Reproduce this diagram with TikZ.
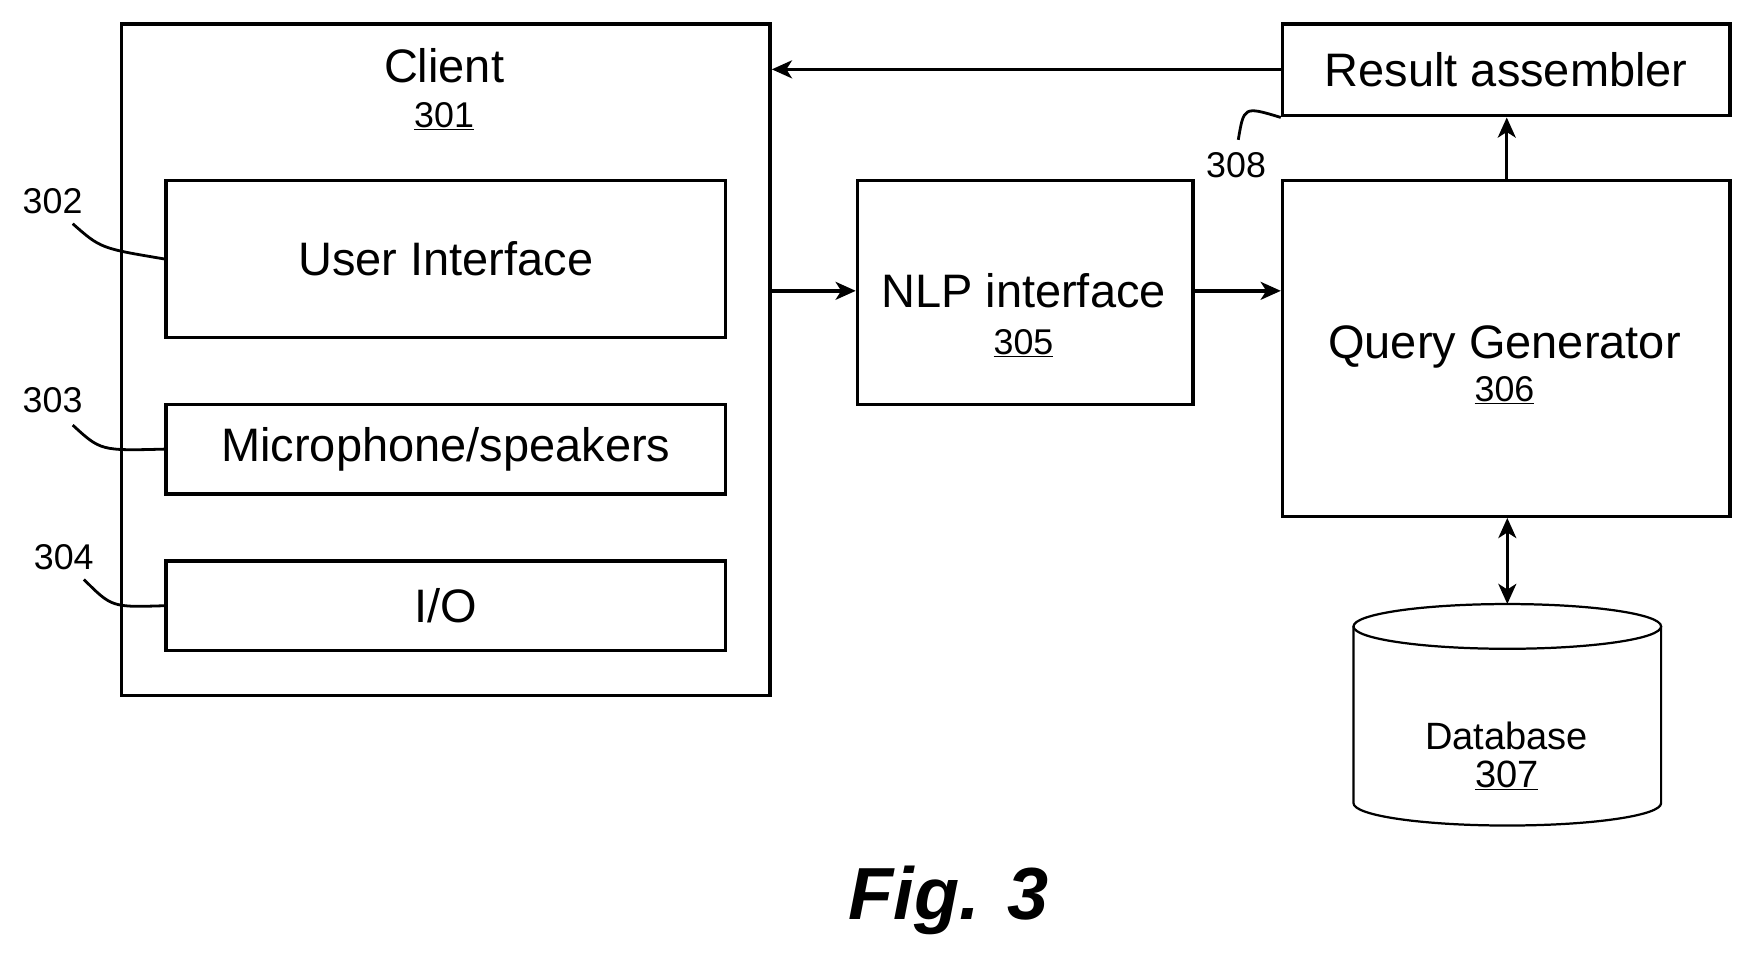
\documentclass[tikz,border=0pt]{standalone}
\usepackage{fontspec}
\setmainfont{Liberation Sans}
\usetikzlibrary{shapes.geometric, arrows.meta, positioning}
\tikzset{
    box/.style={rectangle, draw=black, line width=3pt, text centered, inner sep=0pt},
    arrow/.style={line width=3pt, -{Stealth[length=18pt, width=16pt, inset=5pt]}},
    lead/.style={line width=2.5pt},
    ref/.style={font=\fontsize{32}{36}\selectfont},
    big/.style={font=\fontsize{42}{48}\selectfont}
}
\begin{document}
\begin{tikzpicture}[x=1pt, y=-1pt]
    \useasboundingbox (0,0) rectangle (1560,856);
    % Client side
    \node (client) [box, minimum width=580, minimum height=600, anchor=north west] at (107,20) {};
    \node (clienttxt) [big, align=center] at (397,80) {Client\\[-8pt]\underline{\fontsize{32}{36}\selectfont 301}};
    \node (ui) [box, big, minimum width=500, minimum height=140, anchor=north west] at (147,160) {};
    \node [big] at (ui) {User Interface};
    \node (mic) [box, big, minimum width=500, minimum height=80, anchor=north west] at (147,360) {};
    \node [big] at (mic) {Microphone/speakers};
    \node (io) [box, big, minimum width=500, minimum height=80, anchor=north west] at (147,500) {};
    \node [big] at (io) {I/O};
    % Reference numerals
    \node (r302) [ref] at (47,180) {302};
    \node (r303) [ref] at (47,358) {303};
    \node (r304) [ref] at (57,498) {304};
    \draw [lead] (65,200) .. controls (90,222) .. (ui.west);
    \draw [lead] (65,380) .. controls (90,403) .. (mic.west);
    \draw [lead] (75,518) .. controls (100,543) .. (io.west);
    % Middle and right
    \node (nlp) [box, minimum width=300, minimum height=200, anchor=north west] at (765,160) {};
    \node [big, align=center] at (915,282) {NLP interface\\[-6pt]\underline{\fontsize{32}{36}\selectfont 305}};
    \node (qg) [box, minimum width=400, minimum height=300, anchor=north west] at (1145,160) {};
    \node [big, align=center] at (1345,326) {Query Generator\\[-10pt]\underline{\fontsize{32}{36}\selectfont 306}};
    \node (result) [box, big, minimum width=400, minimum height=82, anchor=north west] at (1145,20) {};
    \node [big] at (result) {Result assembler};
    \node (r308) [ref] at (1105,148) {308};
    \draw [lead] (1107,125) .. controls (1112,95) .. (result.south west);
    % Database
    \draw [line width=2pt] (1210,560) -- (1210,718) arc[start angle=180, end angle=0, x radius=137.5, y radius=20] -- (1485,560);
    \draw [line width=2pt] (1347.5,560) ellipse[x radius=137.5, y radius=20];
    \coordinate (db) at (1347.5,540);
    \node [font=\fontsize{34}{38}\selectfont, align=center] at (1347,676) {Database\\[-4pt]\underline{307}};
    % Arrows
    \draw [arrow] (client.east |- 0,260) -- (nlp.west |- 0,260);
    \draw [arrow] (nlp.east |- 0,260) -- (qg.west |- 0,260);
    \draw [arrow] (qg.north -| 1347,0) -- (result.south -| 1347,0);
    \draw [arrow] (result.west |- 0,62) -- (client.east |- 0,62);
    \draw [arrow, {Stealth[length=18pt, width=16pt, inset=5pt]}-{Stealth[length=18pt, width=16pt, inset=5pt]}] (qg.south -| db) -- (db);
    % Caption
    \node (fig) [font=\fontsize{66}{70}\selectfont\bfseries\itshape] at (848,805) {Fig. 3};
\end{tikzpicture}
\end{document}
